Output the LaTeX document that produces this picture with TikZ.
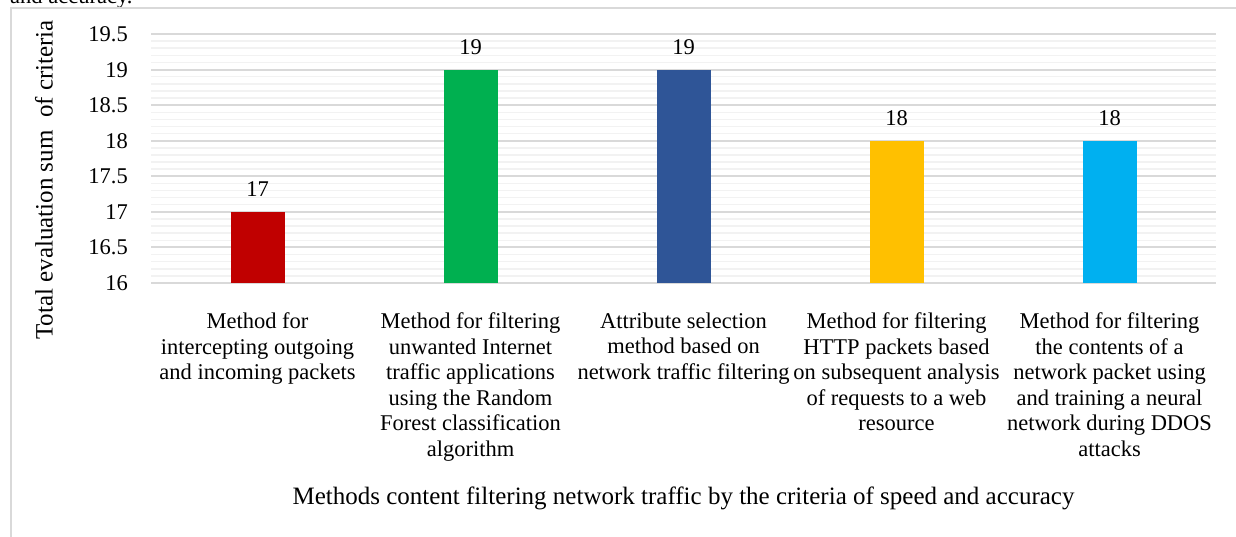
\documentclass[tikz,border=0pt]{standalone}
\usepackage{fontspec}
\setmainfont{Liberation Serif}
\definecolor{gridmajor}{HTML}{D9D9D9}
\definecolor{gridminor}{HTML}{F2F2F2}
\definecolor{barred}{HTML}{C00000}
\definecolor{bargreen}{HTML}{00B050}
\definecolor{barblue}{HTML}{2F5597}
\definecolor{baryellow}{HTML}{FFC000}
\definecolor{barcyan}{HTML}{00B0F0}
\begin{document}
\begin{tikzpicture}[x=1pt,y=-1pt,
  every node/.style={font=\fontsize{22.5}{25.6}\selectfont, inner sep=0pt},
  axistitle/.style={font=\fontsize{25}{28}\selectfont},
  ticklabel/.style={anchor=base east},
  catlabel/.style={anchor=north, align=center},
  vallabel/.style={anchor=base},
  minorgrid/.style={draw=gridminor, line width=1.5pt},
  majorgrid/.style={draw=gridmajor, line width=2pt},
  frameline/.style={draw=gridmajor, line width=2pt}]
\useasboundingbox (0,0) rectangle (1236,536);
\clip (0,0) rectangle (1236,536);

% tail of the caption line above the chart
\node[anchor=base west] (captiontail) at (10,3) {and accuracy.};

% chart frame
\draw[frameline] (11,540) -- (11,7.5) -- (1240,7.5);

% minor gridlines every 0.1
\foreach \i in {1,...,34}{
  \pgfmathtruncatemacro\m{mod(\i,5)}
  \ifnum\m>0
    \draw[minorgrid] (151,283-\i*7.1143) -- (1216,283-\i*7.1143);
  \fi
}
% major gridlines and value axis labels
\foreach \i/\t in {0/16,1/16.5,2/17,3/17.5,4/18,5/18.5,6/19,7/19.5}{
  \draw[majorgrid] (151,283-\i*35.5714) -- (1216,283-\i*35.5714);
  \node[ticklabel] (tick\i) at (128,283-\i*35.5714+7.5) {\t};
}

% bars with value labels
\foreach \cx/\v/\c/\n in {257.5/17/barred/1,470.5/19/bargreen/2,683.5/19/barblue/3,896.5/18/baryellow/4,1109.5/18/barcyan/5}{
  \pgfmathsetmacro\ytop{283-(\v-16)*71.1429}
  \fill[\c] (\cx-27,283) rectangle (\cx+27,\ytop);
  \node[vallabel] (val\n) at (\cx,\ytop-15) {\v};
}

% category labels
\node[catlabel] (cat1) at (257.5,312.5) {Method for\\intercepting outgoing\\and incoming packets};
\node[catlabel] (cat2) at (470.5,312.5) {Method for filtering\\unwanted Internet\\traffic applications\\using the Random\\Forest classification\\algorithm};
\node[catlabel] (cat3) at (683.5,312.5) {Attribute selection\\method based on\\network traffic filtering};
\node[catlabel] (cat4) at (896.5,312.5) {Method for filtering\\HTTP packets based\\on subsequent analysis\\of requests to a web\\resource};
\node[catlabel] (cat5) at (1109.5,312.5) {Method for filtering\\the contents of a\\network packet using\\and training a neural\\network during DDOS\\attacks};

% axis titles
\node[axistitle, anchor=base] (xtitle) at (683.5,504) {Methods content filtering network traffic by the criteria of speed and accuracy};
\node[axistitle, rotate=90] (ytitle) at (44,180) {Total evaluation sum\ \ of criteria};
\end{tikzpicture}
\end{document}
